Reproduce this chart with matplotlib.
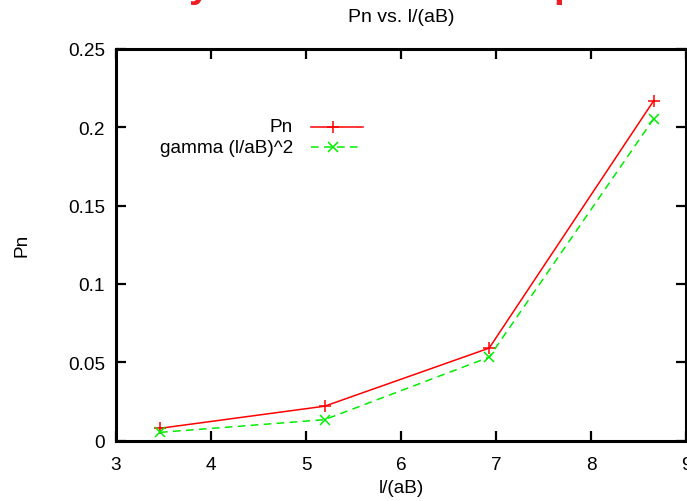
import matplotlib
matplotlib.use("Agg")
import matplotlib.pyplot as plt
import numpy as np

# data
l_over_ab = [3.464, 5.196, 6.928, 8.660]
pn = [0.0078, 0.0219, 0.0590, 0.2170]
gamma_sq = [0.0052, 0.0133, 0.0532, 0.2055]

x_ticks = [3, 4, 5, 6, 7, 8, 9]
y_ticks = [0, 0.05, 0.1, 0.15, 0.2, 0.25]
y_tick_labels = ["0", "0.05", "0.1", "0.15", "0.2", "0.25"]

series_labels = ['Pn', 'gamma (l/aB)^2']
series_colors = ['#ff0000', '#00ee00']

plt.rcParams['font.family'] = ['Liberation Sans', 'DejaVu Sans']
plt.rcParams['font.size'] = 13.7

W, H = 687, 502
fig = plt.figure(figsize=(W / 100, H / 100), dpi=100)
ax = fig.add_axes([116 / W, 1 - 441.5 / H, 570 / W, 391.5 / H])

styles = [dict(ls='-', marker='+', ms=8), dict(ls=(0, (5, 3.5)), marker='x', ms=7)]
for ys, lab, col, st in zip([pn, gamma_sq], series_labels, series_colors, styles):
    ax.plot(l_over_ab, ys, color=col, lw=1.1, mew=1.1, label=lab, **st)

ax.set_xlim(3, 9)
ax.set_ylim(0, 0.25)
ax.set_xticks(x_ticks)
ax.set_yticks(y_ticks)
ax.set_yticklabels(y_tick_labels)
ax.tick_params(direction='in', length=7, width=1.6, top=True, right=True, pad=8)
ax.tick_params(axis='x', pad=11)
for s in ax.spines.values():
    s.set_linewidth(2.2)

# gnuplot-style key: labels right-aligned, sample line to the right
for i, (lab, col, st) in enumerate(zip(series_labels, series_colors, styles)):
    y = 0.8015 - i * 0.0525
    ax.text(0.3105, y, lab, transform=ax.transAxes, ha='right', va='center')
    ax.plot([0.3421, 0.4333], [y, y], transform=ax.transAxes, color=col, lw=1.1,
            ls=st['ls'])
    ax.plot([0.3807], [y], transform=ax.transAxes, color=col, marker=st['marker'],
            ms=st['ms'], mew=1.1)

fig.text(401 / W, 1 - 18 / H, 'Pn vs. l/(aB)', fontsize=14, ha='center', va='center')
fig.text(401 / W, 1 - 489 / H, 'l/(aB)', ha='center', va='center')
fig.text(22 / W, 1 - 245 / H, 'Pn', rotation=90, ha='center', va='center')

# slide heading cut off at the top edge of the picture
for xp, ch in [(200, 'y'), (565, 'p')]:
    fig.text(xp / W, 1 + 3 / H, ch, color='#ee1c24', fontsize=28, fontweight='bold',
             ha='center', va='baseline')

fig.savefig('out.png', dpi=100)
